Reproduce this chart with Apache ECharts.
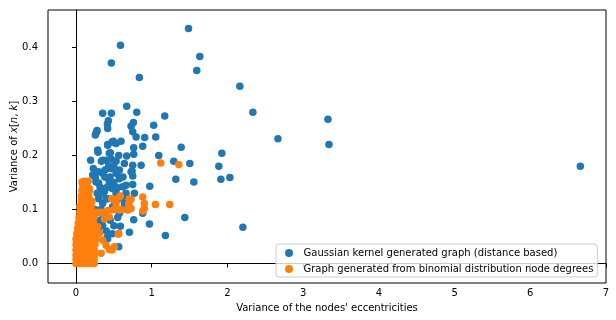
<!DOCTYPE html>
<html>
<head>
<meta charset="utf-8">
<script src="https://cdn.jsdelivr.net/npm/echarts@6/dist/echarts.min.js"></script>
<style>html,body{margin:0;padding:0;background:#fff}#c{width:616px;height:320px}</style>
</head>
<body>
<div id="c"></div>
<script>
const xTicks = [0, 1, 2, 3, 4, 5, 6, 7];
const yTicks = [0, 0.1, 0.2, 0.3, 0.4];
const seriesNames = ['Gaussian kernel generated graph (distance based)', 'Graph generated from binomial distribution node degrees'];

const gaussianPoints = [
  [1.486,0.435],[0.587,0.404],[0.467,0.371],[1.635,0.383],[1.595,0.357],[0.837,0.344],[2.164,0.328],[2.336,0.280],
  [3.328,0.267],[2.667,0.231],[3.341,0.220],[1.389,0.215],[1.926,0.204],[1.503,0.185],[1.886,0.180],[2.032,0.159],
  [1.913,0.156],[1.556,0.151],[1.437,0.085],[2.204,0.067],[6.661,0.180],
  [0.670,0.291],[0.352,0.278],[0.467,0.278],[0.802,0.280],[1.172,0.273],[0.427,0.264],[0.414,0.258],[0.418,0.250],
  [0.758,0.261],[0.727,0.254],[0.749,0.244],[1.026,0.256],[0.273,0.244],[0.264,0.241],[0.255,0.238],[0.794,0.234],
  [0.907,0.233],[1.053,0.234],[0.493,0.226],[0.595,0.226],[0.418,0.220],[0.529,0.222],[0.762,0.214],[0.881,0.217],
  [0.286,0.210],[0.291,0.206],[0.454,0.205],[0.762,0.202],[1.093,0.200],[0.564,0.200],[0.669,0.199],[0.193,0.191],
  [0.335,0.189],[0.397,0.191],[0.467,0.193],[0.529,0.189],[0.639,0.185],[0.749,0.182],[0.860,0.182],[1.291,0.189],
  [0.229,0.176],[0.384,0.173],[0.471,0.176],[0.573,0.173],[0.741,0.171],[0.352,0.167],[0.529,0.167],[0.749,0.162],
  [0.255,0.159],[0.427,0.157],[0.573,0.157],[1.318,0.156],[0.299,0.149],[0.440,0.148],[0.749,0.146],[0.974,0.143],
  [0.317,0.141],[0.476,0.139],[0.616,0.142],[0.374,0.133],[0.529,0.130],[0.771,0.130],[0.397,0.120],[0.507,0.117],
  [0.639,0.111],[0.352,0.111],[0.881,0.093],[0.762,0.081],[0.586,0.069],[0.970,0.073],[1.181,0.052],[0.705,0.058],
  [0.564,0.031],[0.410,0.048],[0.573,0.093],[0.484,0.105],[0.397,0.093],[0.308,0.080],[0.352,0.071],[0.661,0.105],
  [0.616,0.123],[0.220,0.164],[0.440,0.204],[0.463,0.176],[0.352,0.191],[0.264,0.151],[0.661,0.145],[0.440,0.145],
  [0.573,0.160],[0.727,0.170],[0.278,0.246],[0.476,0.225],[0.418,0.219],
  [0.30,0.12],[0.35,0.13],[0.40,0.14],[0.45,0.16],[0.50,0.15],[0.55,0.14],[0.42,0.12],[0.47,0.10],[0.52,0.12],
  [0.33,0.10],[0.38,0.16],[0.43,0.18],[0.50,0.18],[0.56,0.12],[0.60,0.10],[0.28,0.13],[0.25,0.10],[0.30,0.17],
  [0.45,0.08],[0.50,0.07],[0.40,0.06],[0.36,0.09],[0.30,0.06],[0.25,0.05],[0.62,0.16],[0.66,0.13],[0.68,0.10],
  [0.55,0.085],[0.48,0.055],[0.418,0.046]
];

const binomialPoints = [
  [0.00,0.000],[0.05,0.000],[0.10,0.000],[0.15,0.000],[0.20,0.000],[0.24,0.000],
  [0.00,0.008],[0.05,0.008],[0.10,0.008],[0.15,0.008],[0.20,0.008],[0.24,0.008],
  [0.00,0.016],[0.05,0.016],[0.10,0.016],[0.15,0.016],[0.20,0.016],[0.24,0.016],
  [0.00,0.025],[0.05,0.025],[0.10,0.025],[0.15,0.025],[0.20,0.025],[0.24,0.025],
  [0.00,0.035],[0.05,0.035],[0.10,0.035],[0.15,0.035],[0.20,0.035],[0.25,0.035],
  [0.00,0.045],[0.05,0.045],[0.10,0.045],[0.15,0.045],[0.20,0.045],[0.26,0.045],
  [0.01,0.055],[0.06,0.055],[0.11,0.055],[0.16,0.055],[0.21,0.055],[0.27,0.055],
  [0.02,0.065],[0.07,0.065],[0.12,0.065],[0.17,0.065],[0.22,0.065],[0.27,0.065],
  [0.03,0.075],[0.08,0.075],[0.13,0.075],[0.18,0.075],[0.23,0.075],
  [0.04,0.085],[0.09,0.085],[0.14,0.085],[0.19,0.085],[0.24,0.085],
  [0.05,0.095],[0.10,0.095],[0.15,0.095],[0.20,0.095],[0.25,0.095],[0.30,0.095],
  [0.05,0.105],[0.10,0.105],[0.15,0.105],[0.20,0.105],
  [0.07,0.115],[0.12,0.115],[0.17,0.115],[0.21,0.115],
  [0.07,0.125],[0.12,0.125],[0.17,0.125],
  [0.08,0.135],[0.13,0.135],[0.18,0.135],
  [0.09,0.145],[0.14,0.145],[0.11,0.152],[0.16,0.152],
  [1.119,0.186],[1.357,0.183],[0.471,0.120],[0.573,0.123],[0.705,0.120],[0.881,0.123],[0.903,0.111],[1.049,0.109],
  [1.238,0.109],[0.529,0.111],[0.696,0.111],[0.573,0.099],[0.683,0.099],[0.903,0.102],[0.881,0.097],[0.727,0.119],
  [0.727,0.102],[0.440,0.086],[0.374,0.083],[0.559,0.054],[0.507,0.031],[0.440,0.026],[0.331,0.019],[0.132,0.151],
  [0.079,0.151],[0.087,0.137],[0.176,0.139],[0.286,0.068],[0.308,0.056],[0.352,0.043],[0.397,0.034],[0.22,0.08],
  [0.176,0.093],[0.35,0.095],[0.42,0.098],[0.50,0.100],[0.60,0.100],[0.484,0.120],[0.586,0.125],[0.696,0.109],
  [0.564,0.056],[0.476,0.025]
];

const FONT = 'DejaVu Sans';
const chart = echarts.init(document.getElementById('c'), null, {renderer: 'canvas'});
chart.setOption({
  animation: false,
  backgroundColor: '#fff',
  textStyle: {fontFamily: FONT},
  grid: {left: 48, right: 10, top: 10, bottom: 37, containLabel: false, outerBoundsMode: 'none',
         show: true, borderColor: '#000', borderWidth: 1, backgroundColor: 'transparent'},
  legend: {
    orient: 'vertical', left: 276, top: 244,
    padding: [3, 4, 2, 9], itemGap: 4,
    itemWidth: 19, itemHeight: 8,
    borderColor: '#cccccc', borderWidth: 1, borderRadius: 3,
    backgroundColor: 'rgba(255,255,255,0.8)',
    textStyle: {fontFamily: FONT, fontSize: 10, color: '#000', lineHeight: 12},
    data: seriesNames.map(n => ({name: n, icon: 'circle'}))
  },
  xAxis: {
    type: 'value', min: -0.37, max: 7.0,
    name: "Variance of the nodes' eccentricities", nameLocation: 'middle', nameGap: 20, nameMoveOverlap: false,
    nameTextStyle: {fontFamily: FONT, fontSize: 10, color: '#000'},
    axisLine: {show: true, lineStyle: {color: '#000', width: 1}},
    axisTick: {show: true, length: 4, lineStyle: {color: '#000'}, customValues: xTicks},
    axisLabel: {fontFamily: FONT, fontSize: 10, color: '#000', margin: 5, customValues: xTicks, formatter: v => String(v)},
    splitLine: {show: false}
  },
  yAxis: {
    type: 'value', min: -0.036, max: 0.469,
    name: 'Variance of {i|x}[{i|n}, {i|k}]', nameLocation: 'middle', nameGap: 29, nameMoveOverlap: false,
    nameTextStyle: {fontFamily: FONT, fontSize: 10, color: '#000', rich: {i: {fontFamily: FONT, fontSize: 10, fontStyle: 'italic', color: '#000'}}},
    axisLine: {show: true, lineStyle: {color: '#000', width: 1}},
    axisTick: {show: true, length: 4, lineStyle: {color: '#000'}, customValues: yTicks},
    axisLabel: {fontFamily: FONT, fontSize: 10, color: '#000', margin: 10, customValues: yTicks, formatter: v => v.toFixed(1)},
    splitLine: {show: false}
  },
  series: [
    {name: seriesNames[0], type: 'scatter', data: gaussianPoints, symbolSize: 7.5, itemStyle: {color: '#1f77b4', opacity: 1}},
    {name: seriesNames[1], type: 'scatter', data: binomialPoints, symbolSize: 7.5, itemStyle: {color: '#ff7f0e', opacity: 1}}
  ]
});
</script>
</body>
</html>
